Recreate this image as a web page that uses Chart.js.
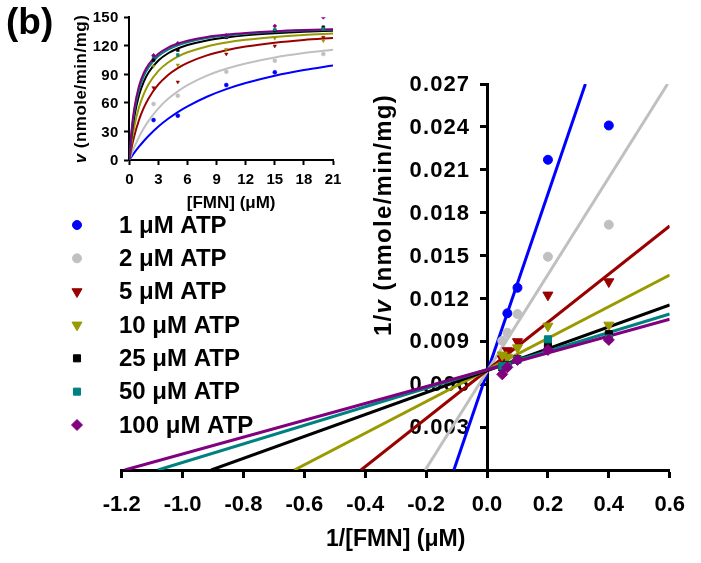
<!DOCTYPE html>
<html><head><meta charset="utf-8">
<script src="https://cdn.jsdelivr.net/npm/chart.js@4.4.1/dist/chart.umd.min.js"></script>
<style>
html,body{margin:0;padding:0;background:#fff;}
#wrap{position:relative;width:701px;height:563px;overflow:hidden;}
#main{position:absolute;left:0;top:0;}
#inset{position:absolute;left:0;top:0;}
</style></head><body>
<div id="wrap">
<canvas id="main" width="701" height="563"></canvas>
<canvas id="inset" width="350" height="220"></canvas>
</div>
<script>
// ---------- DATA ----------
const seriesLabels = ['1 \u03BCM ATP','2 \u03BCM ATP','5 \u03BCM ATP','10 \u03BCM ATP','25 \u03BCM ATP','50 \u03BCM ATP','100 \u03BCM ATP'];
const seriesColors = ['#0000ff','#c0c0c0','#990000','#999900','#000000','#008080','#800080'];
const seriesMarkers = ['circle','circle','triangle','triangle','rect','rect','rectRot'];
const markerRotation = [0,0,180,180,0,0,0];

// Main (Lineweaver-Burk) plot: x = 1/[FMN], y = 1/v
const invFMN = [0.4, 0.2, 0.1, 0.0667, 0.05];
const invV_1   = [0.0241, 0.0217, 0.01275, 0.01096, null];
const invV_2   = [0.01716, 0.01492, 0.01091, 0.0096, 0.00904];
const invV_5   = [0.01317, 0.01224, 0.00898, 0.00835, 0.00778];
const invV_10  = [0.01014, 0.01007, 0.00855, 0.0079, 0.00805];
const invV_25  = [0.0095, 0.00874, 0.00775, 0.00735, 0.00717];
const invV_50  = [0.0092, 0.00914, 0.00772, 0.0073, 0.00725];
const invV_100 = [0.0091, 0.0084, 0.0077, 0.00718, 0.00669];
const invVAll = [invV_1, invV_2, invV_5, invV_10, invV_25, invV_50, invV_100];

// Fitted straight lines: [start, end] points
const lineX_1 = [-0.109, 0.323],  lineY_1 = [0, 0.027];
const lineX_2 = [-0.203, 0.593],  lineY_2 = [0, 0.027];
const lineX_5 = [-0.414, 0.6],    lineY_5 = [0, 0.01707];
const lineX_10 = [-0.633, 0.6],   lineY_10 = [0, 0.01364];
const lineX_25 = [-0.906, 0.6],   lineY_25 = [0, 0.01154];
const lineX_50 = [-1.081, 0.6],   lineY_50 = [0, 0.01091];
const lineX_100 = [-1.19, 0.6],   lineY_100 = [0, 0.01054];
const lineXAll = [lineX_1, lineX_2, lineX_5, lineX_10, lineX_25, lineX_50, lineX_100];
const lineYAll = [lineY_1, lineY_2, lineY_5, lineY_10, lineY_25, lineY_50, lineY_100];

// Inset (Michaelis-Menten) plot: x = [FMN] (uM), y = v
const FMN = [2.5, 5, 10, 15, 20];
const v_1   = [42, 46.6, 78.8, 92.2, null];
const v_2   = [58.9, 67.6, 92.8, 104.4, 111.4];
const v_5   = [76, 82, 111.4, 119.8, 129];
const v_10  = [98.6, 99.8, 116.3, 128, 125.4];
const v_25  = [105, 115.6, 129, 136, 139.5];
const v_50  = [108.6, 110.4, 130, 137, 138];
const v_100 = [110, 122.6, 131, 140.8, 150];
const vAll = [v_1, v_2, v_5, v_10, v_25, v_50, v_100];

// Inset fitted curves
const fitS = [0, 0.25, 0.5, 1, 1.5, 2, 3, 4, 5, 6, 8, 10, 12, 15, 18, 21];
const fit_1   = [0, 3.8, 7.4, 14.0, 20.0, 25.5, 35.2, 43.3, 50.4, 56.4, 66.5, 74.5, 80.9, 88.6, 94.6, 99.4];
const fit_2   = [0, 6.9, 13.2, 24.2, 33.5, 41.4, 54.3, 64.3, 72.2, 78.7, 88.7, 96.0, 101.5, 107.8, 112.4, 115.9];
const fit_5   = [0, 13.5, 24.7, 42.1, 55.0, 65.0, 79.4, 89.4, 96.6, 102.1, 110.0, 115.3, 119.2, 123.3, 126.2, 128.3];
const fit_10  = [0, 19.5, 34.4, 55.4, 69.6, 79.9, 93.7, 102.5, 108.7, 113.2, 119.4, 123.5, 126.4, 129.4, 131.5, 133.0];
const fit_25  = [0, 26.5, 44.7, 68.1, 82.5, 92.3, 104.6, 112.2, 117.2, 120.8, 125.7, 128.8, 131.0, 133.2, 134.8, 135.9];
const fit_50  = [0, 30.3, 50.0, 74.1, 88.3, 97.6, 109.2, 116.0, 120.6, 123.8, 128.1, 130.8, 132.7, 134.7, 136.0, 136.9];
const fit_100 = [0, 32.8, 53.4, 77.7, 91.7, 100.7, 111.7, 118.2, 122.4, 125.4, 129.4, 131.9, 133.6, 135.4, 136.6, 137.5];
const fitAll = [fit_1, fit_2, fit_5, fit_10, fit_25, fit_50, fit_100];

// Axis ranges / ticks
const mainX = {min: -1.2, max: 0.6, step: 0.2};
const mainY = {min: 0, max: 0.027, step: 0.003};
const insetX = {min: 0, max: 21, step: 3};
const insetY = {min: 0, max: 150, step: 30};

// Texts
const panelLabel = '(b)';
const mainXTitle = '1/[FMN] (\u03BCM)';
const mainYTitleParts = [['1/', 'bold'], ['v', 'italic bold'], [' (nmole/min/mg)', 'bold']];
const insetXTitle = '[FMN] (\u03BCM)';
const insetYTitleParts = [['v', 'italic bold'], [' (nmole/min/mg)', 'bold']];

// ---------- RENDER ----------
const FAMILY = "'Liberation Sans', Arial, Helvetica, sans-serif";
const zip = (xs, ys) => xs.map((x, j) => ({x: x, y: ys[j]})).filter(p => p.y !== null && p.y !== undefined);

function markerRadius(i) {
  const s = seriesMarkers[i];
  return s === 'circle' ? 4.5 : s === 'triangle' ? 5.8 : s === 'rectRot' ? 5.5 : 5;
}

function drawMarker(ctx, i, x, y) {
  ctx.save();
  ctx.fillStyle = seriesColors[i];
  ctx.strokeStyle = seriesColors[i];
  ctx.lineWidth = 1;
  Chart.helpers.drawPoint(ctx, {pointStyle: seriesMarkers[i], radius: markerRadius(i), rotation: markerRotation[i], borderWidth: 1}, x, y);
  ctx.restore();
}

function drawRotated(ctx, parts, cx, cy, size, spacing) {
  ctx.save();
  ctx.translate(cx, cy);
  ctx.rotate(-Math.PI / 2);
  ctx.textBaseline = 'middle';
  ctx.textAlign = 'left';
  ctx.fillStyle = '#000';
  if ('letterSpacing' in ctx) ctx.letterSpacing = spacing + 'px';
  const widths = parts.map(p => { ctx.font = p[1] + ' ' + size + 'px ' + FAMILY; return ctx.measureText(p[0]).width; });
  const total = widths.reduce((a, b) => a + b, 0);
  let x = -total / 2;
  parts.forEach((p, k) => { ctx.font = p[1] + ' ' + size + 'px ' + FAMILY; ctx.fillText(p[0], x, 0); x += widths[k]; });
  ctx.restore();
}

function drawCentered(ctx, text, cx, cy, size, spacing) {
  ctx.save();
  ctx.font = 'bold ' + size + 'px ' + FAMILY;
  ctx.fillStyle = '#000';
  ctx.textAlign = 'center';
  ctx.textBaseline = 'middle';
  if ('letterSpacing' in ctx) ctx.letterSpacing = spacing + 'px';
  ctx.fillText(text, cx, cy);
  ctx.restore();
}

// Draws the y scale's own tick labels to the left of a value-positioned axis
function yTickLabelPlugin(id, size, gap, decimals, spacing, showZero) {
  return {
    id: id,
    beforeDatasetsDraw(chart) {
      const ys = chart.scales.y, xs = chart.scales.x;
      const ctx = chart.ctx;
      const axisX = xs.getPixelForValue(0);
      ctx.save();
      ctx.font = 'bold ' + size + 'px ' + FAMILY;
      ctx.fillStyle = '#000';
      ctx.textAlign = 'right';
      ctx.textBaseline = 'middle';
      if ('letterSpacing' in ctx) ctx.letterSpacing = spacing + 'px';
      ys.ticks.forEach(t => {
        if (!showZero && Math.abs(t.value) < 1e-9) return;
        const label = decimals === null ? String(Math.round(t.value)) : t.value.toFixed(decimals);
        ctx.fillText(label, axisX - gap + spacing, ys.getPixelForValue(t.value) + 1);
      });
      ctx.restore();
    }
  };
}

// ----- main chart -----
const mainDatasets = [];
for (let i = seriesLabels.length - 1; i >= 0; i--) {
  mainDatasets.push({
    label: seriesLabels[i],
    data: zip(invFMN, invVAll[i]),
    showLine: false,
    backgroundColor: seriesColors[i],
    borderColor: seriesColors[i],
    pointStyle: seriesMarkers[i],
    pointRotation: markerRotation[i],
    pointRadius: markerRadius(i),
    pointBorderWidth: 1,
    order: 0
  });
}
for (let i = seriesLabels.length - 1; i >= 0; i--) {
  mainDatasets.push({
    label: seriesLabels[i] + ' fit',
    data: zip(lineXAll[i], lineYAll[i]),
    showLine: true,
    borderColor: seriesColors[i],
    backgroundColor: seriesColors[i],
    borderWidth: 3,
    pointRadius: 0,
    fill: false,
    order: 1
  });
}

const mainTextPlugin = {
  id: 'mainText',
  afterDraw(chart) {
    const ctx = chart.ctx;
    drawRotated(ctx, mainYTitleParts, 384, 215, 24, 1.3);
    drawCentered(ctx, mainXTitle, (chart.chartArea.left + chart.chartArea.right) / 2, 540, 23, 0);
    for (let i = 0; i < seriesLabels.length; i++) {
      const y = 225 + i * 33.33;
      drawMarker(ctx, i, 77, y);
      ctx.save();
      ctx.font = 'bold 24px ' + FAMILY;
      ctx.fillStyle = '#000';
      ctx.textAlign = 'left';
      ctx.textBaseline = 'middle';
      ctx.fillText(seriesLabels[i], 119, y + 1);
      ctx.restore();
    }
  }
};

const tickFontMain = {family: FAMILY, size: 22, weight: 'bold'};

new Chart(document.getElementById('main'), {
  type: 'scatter',
  data: {datasets: mainDatasets},
  options: {
    responsive: false, animation: false, devicePixelRatio: 1,
    layout: {padding: {left: 121.7, right: 30, top: 84, bottom: 93}},
    plugins: {legend: {display: false}, tooltip: {enabled: false}},
    scales: {
      x: {
        type: 'linear', position: {y: 0}, min: mainX.min, max: mainX.max,
        ticks: {stepSize: mainX.step, color: '#000', font: tickFontMain, padding: 16, maxRotation: 0, autoSkip: false,
                callback: v => (Math.abs(v) < 1e-9 ? 0 : v).toFixed(1)},
        grid: {drawOnChartArea: false, drawTicks: true, tickLength: 6, tickWidth: 3, tickColor: '#000'},
        border: {display: true, color: '#000', width: 3}
      },
      y: {
        type: 'linear', position: {x: 0}, min: mainY.min, max: mainY.max,
        ticks: {stepSize: mainY.step, display: false, autoSkip: false},
        grid: {drawOnChartArea: false, drawTicks: true, tickLength: 6, tickWidth: 3, tickColor: '#000'},
        border: {display: true, color: '#000', width: 3}
      }
    }
  },
  plugins: [yTickLabelPlugin('mainYTicks', 22, 18, 3, 1.1, false), mainTextPlugin]
});

// ----- inset chart -----
const insetDatasets = [];
for (let i = seriesLabels.length - 1; i >= 0; i--) {
  insetDatasets.push({
    label: seriesLabels[i],
    data: zip(FMN, vAll[i]),
    showLine: false,
    backgroundColor: seriesColors[i],
    borderColor: seriesColors[i],
    pointStyle: seriesMarkers[i],
    pointRotation: markerRotation[i],
    pointRadius: 2,
    pointBorderWidth: 0.5,
    order: 0
  });
}
for (let i = seriesLabels.length - 1; i >= 0; i--) {
  insetDatasets.push({
    label: seriesLabels[i] + ' fit',
    data: zip(fitS, fitAll[i]),
    showLine: true,
    cubicInterpolationMode: 'monotone',
    borderColor: seriesColors[i],
    borderWidth: 2,
    pointRadius: 0,
    fill: false,
    order: 1
  });
}

const insetTextPlugin = {
  id: 'insetText',
  afterDraw(chart) {
    const ctx = chart.ctx;
    drawRotated(ctx, insetYTitleParts, 81, 89, 17, 0.5);
    drawCentered(ctx, insetXTitle, (chart.chartArea.left + chart.chartArea.right) / 2, 203, 17, 0);
    ctx.save();
    ctx.font = 'bold 37px ' + FAMILY;
    ctx.fillStyle = '#000';
    ctx.textAlign = 'left';
    ctx.textBaseline = 'alphabetic';
    ctx.fillText(panelLabel, 6, 34);
    ctx.restore();
  }
};

const tickFontInset = {family: FAMILY, size: 15, weight: 'bold'};

new Chart(document.getElementById('inset'), {
  type: 'scatter',
  data: {datasets: insetDatasets},
  options: {
    responsive: false, animation: false, devicePixelRatio: 1,
    layout: {padding: {left: 129.3, right: 17, top: 17.3, bottom: 60}},
    plugins: {legend: {display: false}, tooltip: {enabled: false}},
    scales: {
      x: {
        type: 'linear', position: {y: 0}, min: insetX.min, max: insetX.max,
        ticks: {stepSize: insetX.step, color: '#000', font: tickFontInset, padding: 7, maxRotation: 0, autoSkip: false},
        grid: {drawOnChartArea: false, drawTicks: true, tickLength: 4, tickWidth: 2, tickColor: '#000'},
        border: {display: true, color: '#000', width: 2}
      },
      y: {
        type: 'linear', position: {x: 0}, min: insetY.min, max: insetY.max,
        ticks: {stepSize: insetY.step, display: false, autoSkip: false},
        grid: {drawOnChartArea: false, drawTicks: true, tickLength: 4, tickWidth: 2, tickColor: '#000'},
        border: {display: true, color: '#000', width: 2}
      }
    }
  },
  plugins: [yTickLabelPlugin('insetYTicks', 15, 11, null, 0.3, true), insetTextPlugin]
});
</script>
</body></html>
